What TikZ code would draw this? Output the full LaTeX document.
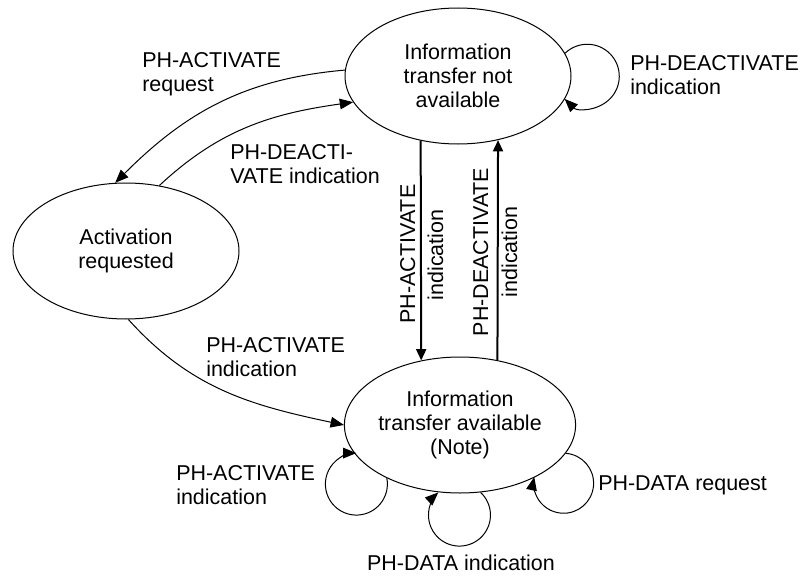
\documentclass[tikz,border=0pt]{standalone}
\usepackage{fontspec}
\setmainfont{Liberation Sans}
\usetikzlibrary{arrows.meta,shapes.geometric}
\newcommand{\lblfont}{\fontsize{16.1pt}{18pt}\selectfont}
\begin{document}
\begin{tikzpicture}[x=0.75pt,y=0.75pt,
  state/.style={draw, ellipse, line width=0.75pt, minimum width=169.5pt, minimum height=102pt, inner sep=0pt, align=center, font=\lblfont},
  lbl/.style={inner sep=0pt, align=left, font=\lblfont},
  conn/.style={line width=0.75pt, -{Triangle[length=10pt,width=8pt]}},
  vconn/.style={line width=1.5pt, -{Triangle[length=8.5pt,width=7.5pt]}}
]
\useasboundingbox (0,0) rectangle (801,-578);
% states
\node[state] (n1) at (458,-76) {Information\\transfer not\\available};
\node[state] (n2) at (126,-251) {Activation\\requested};
\node[state] (n3) at (460,-425) {Information\\transfer available\\(Note)};
% connectors
\draw[conn] (n1.177) to[out=185, in=45] (n2.99);
\draw[conn] (n2.63) to[out=43, in=188] (n1.194);
\draw[conn] (n2.-88) to[out=-48, in=168] (n3.180);
\draw[vconn] (n1.240) -- (n3.121);
\draw[vconn] (n3.60) -- (n1.-58);
% self loops
\draw[conn] (n1.12) arc[start angle=134, end angle=-135, radius=24pt];
\draw[conn] (n3.216) arc[start angle=11, end angle=-270, radius=23.25pt];
\draw[conn] (n3.-73) arc[start angle=47, end angle=-227, radius=23.25pt];
\draw[conn] (n3.-15) arc[start angle=86, end angle=-192, radius=22.5pt];
% labels (base = baseline of last line)
\node[lbl, anchor=base west] (t1) at (142,-91) {PH-ACTIVATE\\request};
\node[lbl, anchor=base west] (t2) at (230,-183) {PH-DEACTI-\\VATE indication};
\node[lbl, anchor=base west] (t3) at (630,-94) {PH-DEACTIVATE\\indication};
\node[lbl, anchor=base west] (t4) at (206,-376) {PH-ACTIVATE\\indication};
\node[lbl, anchor=base west] (t5) at (176,-504) {PH-ACTIVATE\\indication};
\node[lbl, anchor=base west] (t6) at (598,-490) {PH-DATA request};
\node[lbl, anchor=base] (t7) at (461,-570) {PH-DATA indication};
\node[lbl, rotate=90, anchor=base] (t8a) at (415,-254) {PH-ACTIVATE};
\node[lbl, rotate=90, anchor=base] (t8b) at (443,-255) {indication};
\node[lbl, rotate=90, anchor=base] (t9a) at (488,-252) {PH-DEACTIVATE};
\node[lbl, rotate=90, anchor=base] (t9b) at (517,-252) {indication};
\end{tikzpicture}
\end{document}
